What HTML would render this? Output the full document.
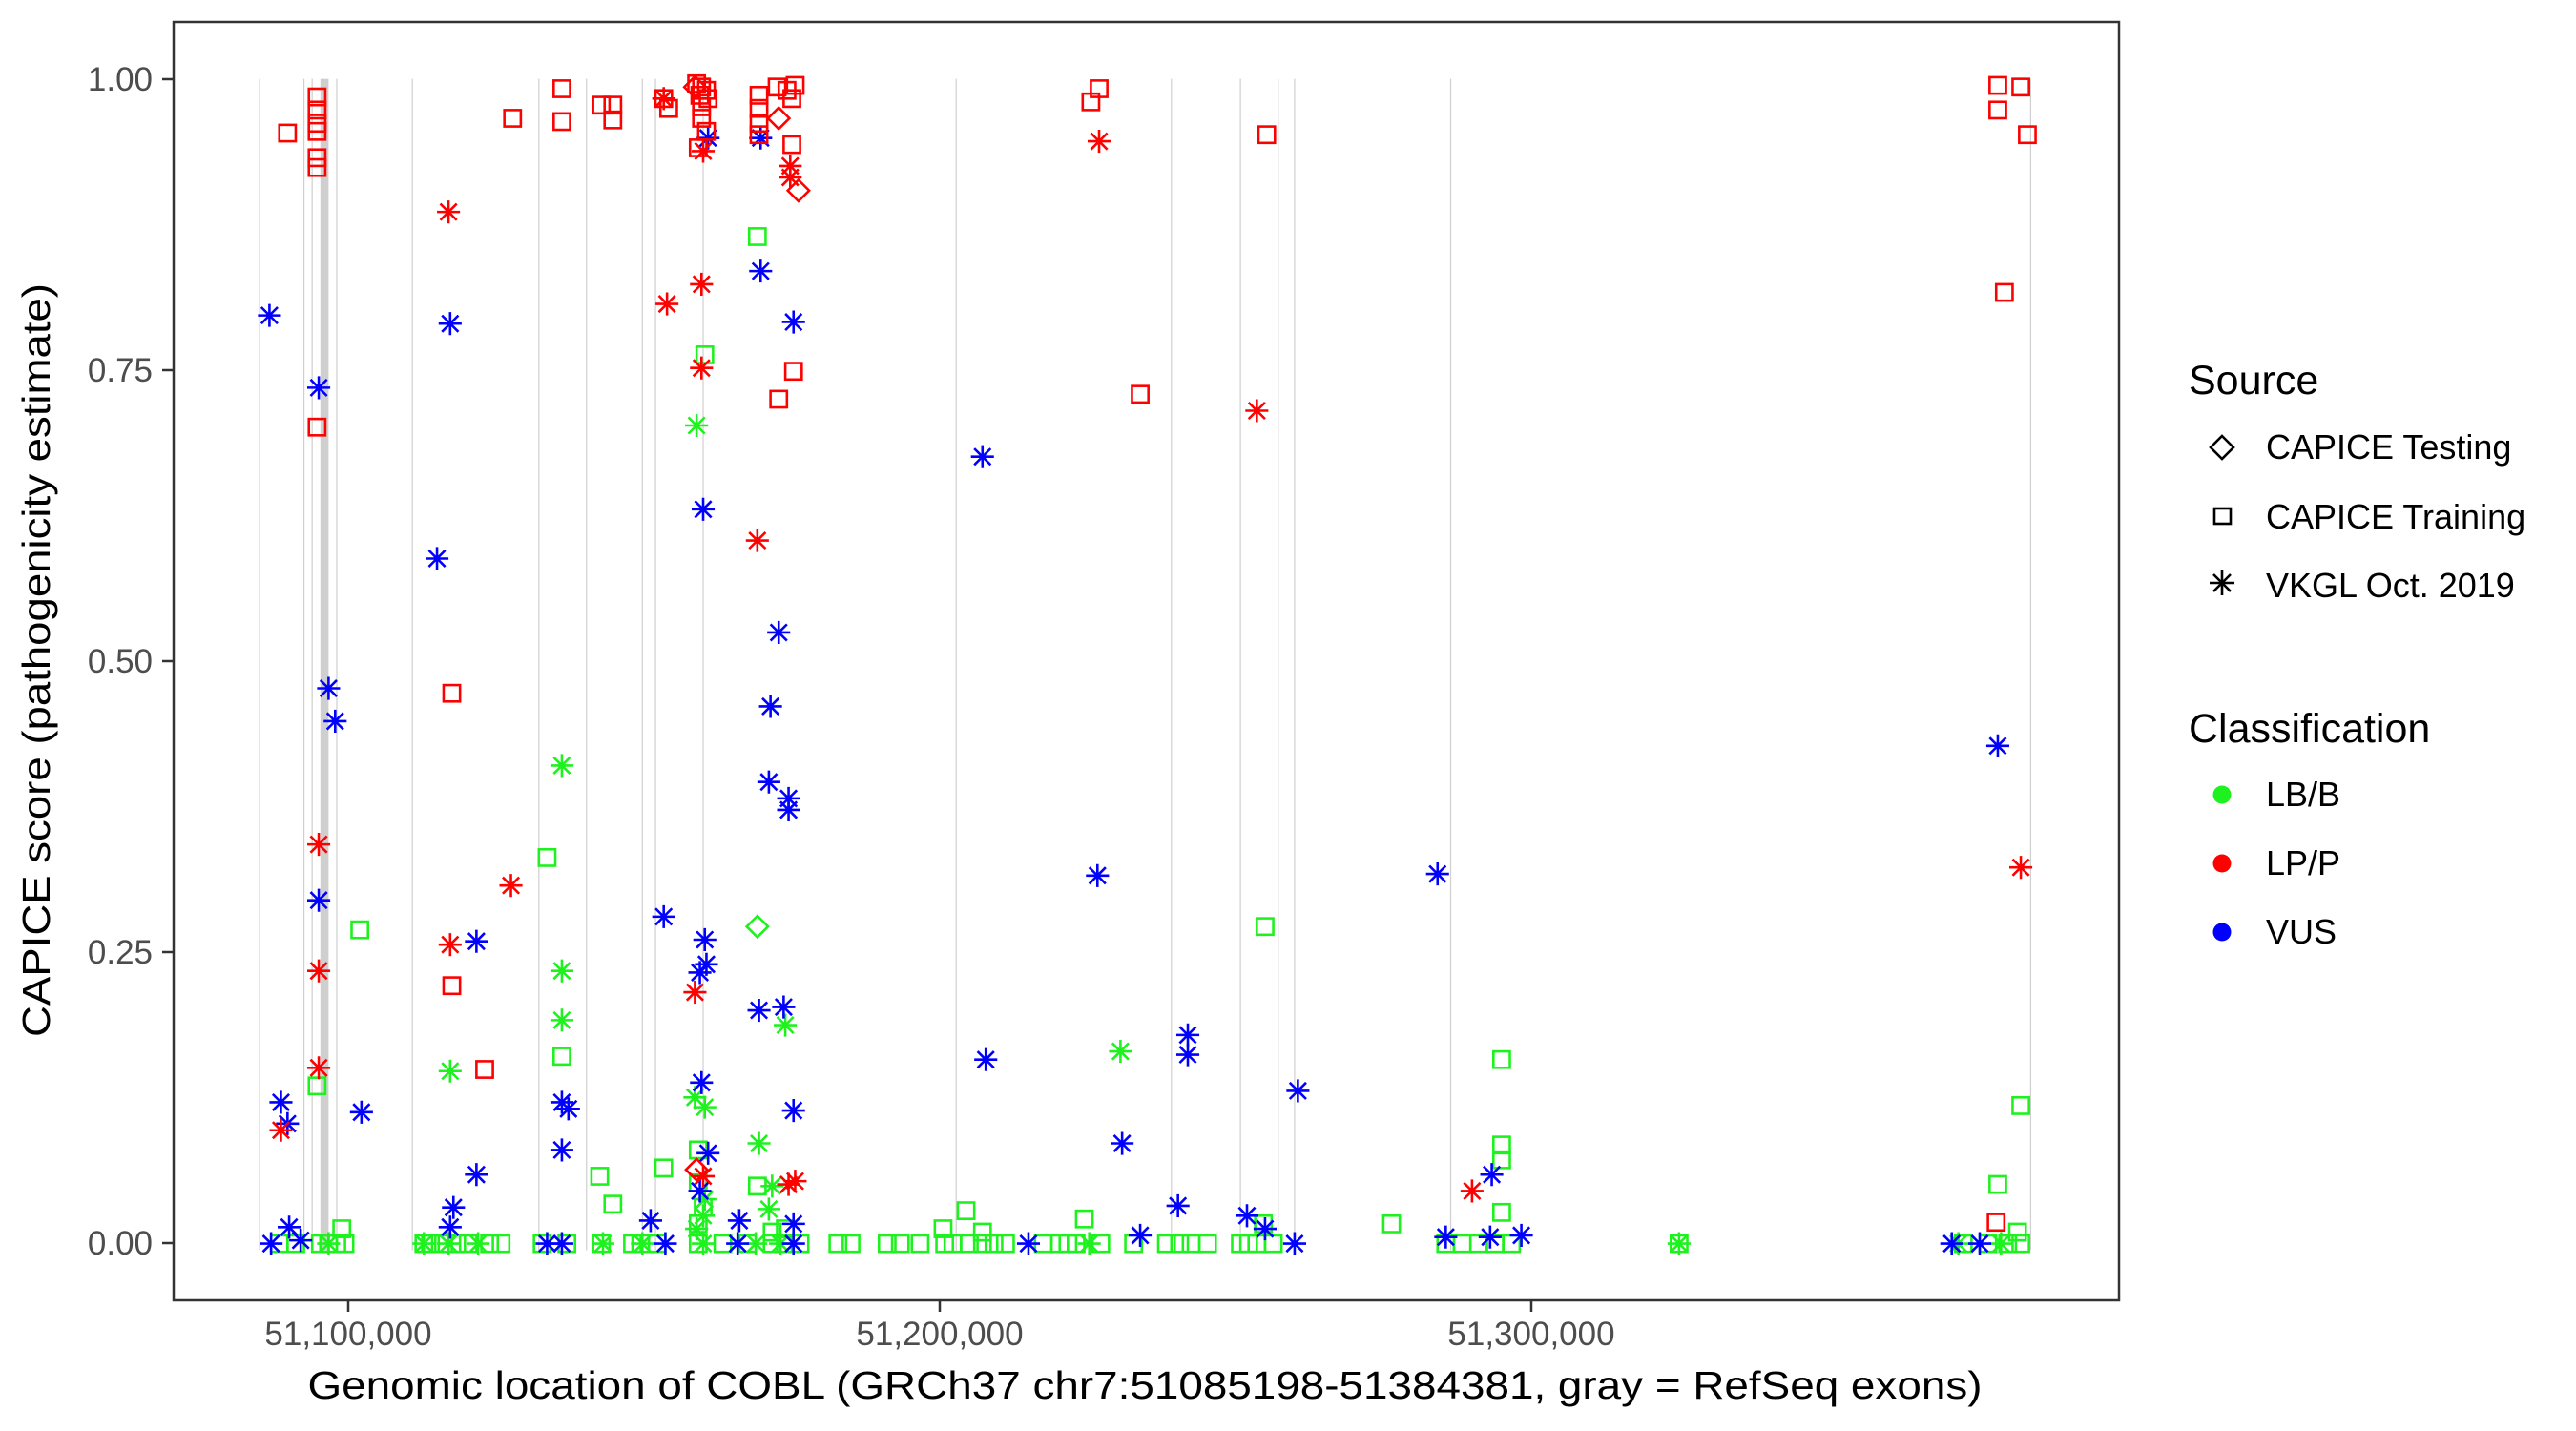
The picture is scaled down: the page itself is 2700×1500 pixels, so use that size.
<!DOCTYPE html>
<html><head><meta charset="utf-8"><style>
html,body{margin:0;padding:0;background:#fff;}
svg{display:block;}
text{font-family:"Liberation Sans",Arial,sans-serif;}
</style></head><body>
<svg width="2700" height="1500" viewBox="0 0 2700 1500" xmlns="http://www.w3.org/2000/svg">
<defs>
<rect id="sq" x="-5" y="-5" width="10" height="10" fill="none" stroke-width="1.5"/>
<path id="di" d="M0,-6.5 L6.5,0 L0,6.5 L-6.5,0Z" fill="none" stroke-width="1.5"/>
<path id="as" d="M0,-7V7M-7,0H7M-5,-5L5,5M-5,5L5,-5" fill="none" stroke-width="1.5"/>
</defs>
<rect x="182" y="23" width="2039" height="1340" fill="#fff" stroke="#333" stroke-width="2.5"/>
<g transform="scale(1.722)">
<g stroke="#cfcfcf" stroke-width="0.7">
<line x1="158" y1="48" x2="158" y2="761"/><line x1="185" y1="48" x2="185" y2="761"/><line x1="190" y1="48" x2="190" y2="761"/><line x1="205" y1="48" x2="205" y2="761"/><line x1="251" y1="48" x2="251" y2="761"/><line x1="328" y1="48" x2="328" y2="761"/><line x1="357" y1="48" x2="357" y2="761"/><line x1="391" y1="48" x2="391" y2="761"/><line x1="399" y1="48" x2="399" y2="761"/><line x1="428" y1="48" x2="428" y2="761"/><line x1="582" y1="48" x2="582" y2="761"/><line x1="713" y1="48" x2="713" y2="761"/><line x1="755" y1="48" x2="755" y2="761"/><line x1="778" y1="48" x2="778" y2="761"/><line x1="788" y1="48" x2="788" y2="761"/><line x1="883" y1="48" x2="883" y2="761"/><line x1="1236" y1="48" x2="1236" y2="761"/>
</g>
<rect x="195" y="48" width="5" height="713" fill="#cfcfcf"/>
<g stroke="#1ef21e">
<use href="#sq" x="193" y="661"/><use href="#sq" x="219" y="566"/><use href="#sq" x="208" y="748"/><use href="#sq" x="333" y="522"/><use href="#sq" x="342" y="643"/><use href="#sq" x="365" y="716"/><use href="#sq" x="373" y="733"/><use href="#sq" x="404" y="711"/><use href="#sq" x="429" y="216"/><use href="#sq" x="461" y="144"/><use href="#sq" x="461" y="722"/><use href="#sq" x="425" y="700"/><use href="#sq" x="425" y="720"/><use href="#sq" x="428" y="735"/><use href="#sq" x="425" y="745"/><use href="#sq" x="588" y="737"/><use href="#sq" x="660" y="742"/><use href="#sq" x="770" y="564"/><use href="#sq" x="769" y="745"/><use href="#sq" x="847" y="745"/><use href="#sq" x="914" y="645"/><use href="#sq" x="914" y="697"/><use href="#sq" x="914" y="706"/><use href="#sq" x="914" y="738"/><use href="#sq" x="1216" y="721"/><use href="#sq" x="1230" y="673"/><use href="#sq" x="1228" y="750"/><use href="#sq" x="598" y="750"/><use href="#sq" x="574" y="748"/><use href="#sq" x="470" y="750"/><use href="#sq" x="478" y="748"/>
<use href="#sq" x="170" y="757"/><use href="#sq" x="180" y="757"/><use href="#sq" x="195" y="757"/><use href="#sq" x="200" y="757"/><use href="#sq" x="205" y="757"/><use href="#sq" x="210" y="757"/><use href="#sq" x="258" y="757"/><use href="#sq" x="262" y="757"/><use href="#sq" x="270" y="757"/><use href="#sq" x="278" y="757"/><use href="#sq" x="285" y="757"/><use href="#sq" x="298" y="757"/><use href="#sq" x="305" y="757"/><use href="#sq" x="330" y="757"/><use href="#sq" x="345" y="757"/><use href="#sq" x="366" y="757"/><use href="#sq" x="385" y="757"/><use href="#sq" x="390" y="757"/><use href="#sq" x="400" y="757"/><use href="#sq" x="425" y="757"/><use href="#sq" x="440" y="757"/><use href="#sq" x="455" y="757"/><use href="#sq" x="470" y="757"/><use href="#sq" x="478" y="757"/><use href="#sq" x="487" y="757"/><use href="#sq" x="510" y="757"/><use href="#sq" x="518" y="757"/><use href="#sq" x="540" y="757"/><use href="#sq" x="548" y="757"/><use href="#sq" x="560" y="757"/><use href="#sq" x="575" y="757"/><use href="#sq" x="580" y="757"/><use href="#sq" x="590" y="757"/><use href="#sq" x="598" y="757"/><use href="#sq" x="605" y="757"/><use href="#sq" x="612" y="757"/><use href="#sq" x="635" y="757"/><use href="#sq" x="645" y="757"/><use href="#sq" x="650" y="757"/><use href="#sq" x="655" y="757"/><use href="#sq" x="670" y="757"/><use href="#sq" x="690" y="757"/><use href="#sq" x="710" y="757"/><use href="#sq" x="718" y="757"/><use href="#sq" x="725" y="757"/><use href="#sq" x="735" y="757"/><use href="#sq" x="755" y="757"/><use href="#sq" x="760" y="757"/><use href="#sq" x="765" y="757"/><use href="#sq" x="775" y="757"/><use href="#sq" x="880" y="757"/><use href="#sq" x="890" y="757"/><use href="#sq" x="900" y="757"/><use href="#sq" x="910" y="757"/><use href="#sq" x="920" y="757"/><use href="#sq" x="1022" y="757"/><use href="#sq" x="1195" y="757"/><use href="#sq" x="1210" y="757"/><use href="#sq" x="1222" y="757"/><use href="#sq" x="1230" y="757"/>
<use href="#di" x="461" y="564"/>
<use href="#as" x="342" y="466"/><use href="#as" x="342" y="591"/><use href="#as" x="342" y="621"/><use href="#as" x="274" y="652"/><use href="#as" x="424" y="259"/><use href="#as" x="429" y="674"/><use href="#as" x="462" y="696"/><use href="#as" x="478" y="624"/><use href="#as" x="423" y="668"/><use href="#as" x="682" y="640"/><use href="#as" x="468" y="736"/><use href="#as" x="470" y="722"/><use href="#as" x="429" y="730"/><use href="#as" x="428" y="740"/><use href="#as" x="424" y="748"/>
<use href="#as" x="258" y="757"/><use href="#as" x="273" y="757"/><use href="#as" x="291" y="757"/><use href="#as" x="367" y="757"/><use href="#as" x="391" y="757"/><use href="#as" x="428" y="757"/><use href="#as" x="460" y="757"/><use href="#as" x="475" y="757"/><use href="#as" x="663" y="757"/><use href="#as" x="1022" y="757"/><use href="#as" x="1192" y="757"/><use href="#as" x="1218" y="757"/><use href="#as" x="200" y="757"/>
</g>
<g stroke="#0000ff">
<use href="#as" x="164" y="192"/><use href="#as" x="194" y="236"/><use href="#as" x="194" y="548"/><use href="#as" x="200" y="419"/><use href="#as" x="204" y="439"/><use href="#as" x="171" y="671"/><use href="#as" x="175" y="684"/><use href="#as" x="220" y="677"/><use href="#as" x="266" y="340"/><use href="#as" x="274" y="197"/><use href="#as" x="290" y="573"/><use href="#as" x="276" y="735"/><use href="#as" x="274" y="747"/><use href="#as" x="290" y="715"/><use href="#as" x="342" y="671"/><use href="#as" x="342" y="700"/><use href="#as" x="346" y="675"/><use href="#as" x="404" y="558"/><use href="#as" x="396" y="743"/><use href="#as" x="428" y="310"/><use href="#as" x="431" y="84"/><use href="#as" x="463" y="84"/><use href="#as" x="463" y="165"/><use href="#as" x="483" y="196"/><use href="#as" x="474" y="385"/><use href="#as" x="469" y="430"/><use href="#as" x="468" y="476"/><use href="#as" x="480" y="486"/><use href="#as" x="480" y="493"/><use href="#as" x="477" y="613"/><use href="#as" x="462" y="615"/><use href="#as" x="429" y="572"/><use href="#as" x="430" y="587"/><use href="#as" x="426" y="592"/><use href="#as" x="427" y="659"/><use href="#as" x="431" y="702"/><use href="#as" x="483" y="676"/><use href="#as" x="598" y="278"/><use href="#as" x="668" y="533"/><use href="#as" x="600" y="645"/><use href="#as" x="683" y="696"/><use href="#as" x="723" y="630"/><use href="#as" x="723" y="642"/><use href="#as" x="717" y="734"/><use href="#as" x="790" y="664"/><use href="#as" x="759" y="740"/><use href="#as" x="770" y="748"/><use href="#as" x="875" y="532"/><use href="#as" x="908" y="715"/><use href="#as" x="1216" y="454"/><use href="#as" x="165" y="757"/><use href="#as" x="176" y="747"/><use href="#as" x="183" y="755"/><use href="#as" x="626" y="757"/><use href="#as" x="694" y="752"/><use href="#as" x="788" y="757"/><use href="#as" x="880" y="753"/><use href="#as" x="907" y="753"/><use href="#as" x="926" y="752"/><use href="#as" x="1188" y="757"/><use href="#as" x="1205" y="757"/><use href="#as" x="450" y="743"/><use href="#as" x="405" y="757"/><use href="#as" x="483" y="745"/><use href="#as" x="483" y="757"/><use href="#as" x="342" y="757"/><use href="#as" x="333" y="757"/><use href="#as" x="426" y="725"/><use href="#as" x="449" y="757"/>
</g>
<g stroke="#ff0000">
<use href="#sq" x="175" y="81"/><use href="#sq" x="193" y="59"/><use href="#sq" x="193" y="67"/><use href="#sq" x="193" y="75"/><use href="#sq" x="193" y="80"/><use href="#sq" x="193" y="96"/><use href="#sq" x="193" y="102"/><use href="#sq" x="193" y="260"/><use href="#sq" x="312" y="72"/><use href="#sq" x="342" y="54"/><use href="#sq" x="342" y="74"/><use href="#sq" x="366" y="64"/><use href="#sq" x="373" y="64"/><use href="#sq" x="373" y="73"/><use href="#sq" x="404" y="60"/><use href="#sq" x="407" y="66"/><use href="#sq" x="424" y="51"/><use href="#sq" x="427" y="53"/><use href="#sq" x="430" y="55"/><use href="#sq" x="426" y="58"/><use href="#sq" x="431" y="60"/><use href="#sq" x="425" y="90"/><use href="#sq" x="427" y="72"/><use href="#sq" x="427" y="65"/><use href="#sq" x="430" y="80"/><use href="#sq" x="462" y="58"/><use href="#sq" x="462" y="66"/><use href="#sq" x="462" y="75"/><use href="#sq" x="462" y="82"/><use href="#sq" x="473" y="53"/><use href="#sq" x="474" y="243"/><use href="#sq" x="482" y="60"/><use href="#sq" x="479" y="55"/><use href="#sq" x="484" y="52"/><use href="#sq" x="482" y="88"/><use href="#sq" x="483" y="226"/><use href="#sq" x="664" y="62"/><use href="#sq" x="669" y="54"/><use href="#sq" x="694" y="240"/><use href="#sq" x="771" y="82"/><use href="#sq" x="1216" y="52"/><use href="#sq" x="1216" y="67"/><use href="#sq" x="1230" y="53"/><use href="#sq" x="1234" y="82"/><use href="#sq" x="1220" y="178"/><use href="#sq" x="275" y="422"/><use href="#sq" x="275" y="600"/><use href="#sq" x="295" y="651"/><use href="#sq" x="1215" y="744"/>
<use href="#di" x="423" y="53"/><use href="#di" x="474" y="72"/><use href="#di" x="486" y="116"/><use href="#di" x="424" y="712"/>
<use href="#as" x="273" y="129"/><use href="#as" x="406" y="185"/><use href="#as" x="427" y="173"/><use href="#as" x="427" y="224"/><use href="#as" x="461" y="329"/><use href="#as" x="423" y="604"/><use href="#as" x="428" y="716"/><use href="#as" x="404" y="60"/><use href="#as" x="481" y="101"/><use href="#as" x="481" y="108"/><use href="#as" x="484" y="719"/><use href="#as" x="480" y="721"/><use href="#as" x="669" y="86"/><use href="#as" x="765" y="250"/><use href="#as" x="194" y="514"/><use href="#as" x="194" y="591"/><use href="#as" x="194" y="650"/><use href="#as" x="171" y="688"/><use href="#as" x="274" y="575"/><use href="#as" x="311" y="539"/><use href="#as" x="896" y="725"/><use href="#as" x="1230" y="528"/><use href="#as" x="428" y="92"/>
</g>
</g>
<g stroke="#333" stroke-width="2.5">
<line x1="170" y1="83" x2="182" y2="83"/><line x1="170" y1="388" x2="182" y2="388"/><line x1="170" y1="693" x2="182" y2="693"/><line x1="170" y1="998" x2="182" y2="998"/><line x1="170" y1="1303" x2="182" y2="1303"/>
<line x1="365" y1="1363" x2="365" y2="1375"/><line x1="985" y1="1363" x2="985" y2="1375"/><line x1="1605" y1="1363" x2="1605" y2="1375"/>
</g>
<g fill="#4d4d4d" font-size="35" text-anchor="end">
<text x="160" y="95">1.00</text><text x="160" y="400">0.75</text><text x="160" y="705">0.50</text><text x="160" y="1010">0.25</text><text x="160" y="1315">0.00</text>
</g>
<g fill="#4d4d4d" font-size="35" text-anchor="middle">
<text x="365" y="1410">51,100,000</text><text x="985" y="1410">51,200,000</text><text x="1605" y="1410">51,300,000</text>
</g>
<text x="1200" y="1466" font-size="41" text-anchor="middle" textLength="1755" lengthAdjust="spacingAndGlyphs">Genomic location of COBL (GRCh37 chr7:51085198-51384381, gray = RefSeq exons)</text>
<text transform="translate(52,692) rotate(-90)" font-size="41" text-anchor="middle" textLength="790" lengthAdjust="spacingAndGlyphs">CAPICE score (pathogenicity estimate)</text>
<g font-size="43"><text x="2294" y="413">Source</text><text x="2294" y="778">Classification</text></g>
<g font-size="36">
<text x="2375" y="481">CAPICE Testing</text><text x="2375" y="554">CAPICE Training</text><text x="2375" y="626">VKGL Oct. 2019</text>
<text x="2375" y="845">LB/B</text><text x="2375" y="917">LP/P</text><text x="2375" y="989">VUS</text>
</g>
<g stroke="#000" fill="none" stroke-width="2.6">
<path d="M2329,457 L2341,469 L2329,481 L2317,469Z"/>
<rect x="2321" y="533" width="17" height="16"/>
<path d="M2329,598V624M2316,611H2342M2320,602L2338,620M2320,620L2338,602"/>
</g>
<circle cx="2329" cy="833" r="9.5" fill="#1ef21e"/>
<circle cx="2329" cy="905" r="9.5" fill="#ff0000"/>
<circle cx="2329" cy="977" r="9.5" fill="#0000ff"/>
</svg>
</body></html>
